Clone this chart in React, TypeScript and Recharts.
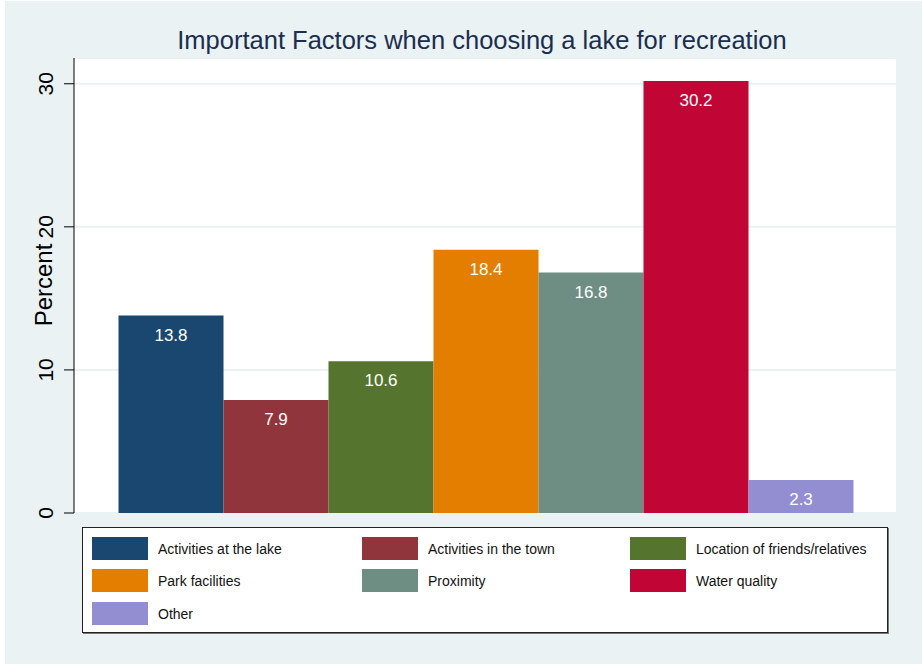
import React from 'react';
import { BarChart, Bar, XAxis, YAxis, CartesianGrid, LabelList, Label } from 'recharts';

// Shares of respondents by most important factor
const categories = [
  'Activities at the lake',
  'Activities in the town',
  'Location of friends/relatives',
  'Park facilities',
  'Proximity',
  'Water quality',
  'Other',
];
const percents = [13.8, 7.9, 10.6, 18.4, 16.8, 30.2, 2.3];
const colors = ['#1A476F', '#90353B', '#55752F', '#E37E00', '#6E8E84', '#C10534', '#938DD2'];
const yTicks = [0, 10, 20, 30];

const row: Record<string, number | string> = { name: 'all' };
categories.forEach((c, i) => {
  row['s' + i] = percents[i];
});
const data = [row];

const YTick = (props: any) => {
  const { y, payload } = props;
  const cx = 45.5;
  return (
    <text
      x={cx}
      y={y}
      dy="0.36em"
      textAnchor="middle"
      fontSize={21}
      fill="#000"
      fontFamily="Liberation Sans, Arial, sans-serif"
      transform={`rotate(-90, ${cx}, ${y})`}
    >
      {payload.value}
    </text>
  );
};

const AxisTitle = (props: any) => {
  const { viewBox } = props;
  const cx = 43.5;
  const cy = viewBox.y + viewBox.height / 2 - 0.5;
  return (
    <text
      x={cx}
      y={cy}
      dy="0.36em"
      textAnchor="middle"
      fontSize={24}
      fill="#000"
      fontFamily="Liberation Sans, Arial, sans-serif"
      transform={`rotate(-90, ${cx}, ${cy})`}
    >
      Percent
    </text>
  );
};

const App: React.FC = () => {
  return (
    <div
      style={{
        position: 'absolute',
        left: 0,
        top: 0,
        width: 922,
        height: 664,
        background: '#fff',
        fontFamily: 'Liberation Sans, Arial, sans-serif',
      }}
    >
      <div style={{ position: 'absolute', left: 5, top: 1, width: 917, height: 663, background: '#EAF2F3' }} />

      <div
        style={{
          position: 'absolute',
          left: 0,
          width: 964,
          top: 24,
          textAlign: 'center',
          fontSize: 25.5,
          lineHeight: '32px',
          color: '#1A2E50',
        }}
      >
        Important Factors when choosing a lake for recreation
      </div>

      <BarChart
        width={922}
        height={530}
        data={data}
        margin={{ top: 58, right: 26, bottom: 17, left: 0 }}
        barCategoryGap={44.5}
        barGap={0}
        style={{ position: 'absolute', left: 0, top: 0 }}
      >
        <CartesianGrid vertical={false} stroke="#EAF2F3" strokeWidth={2} fill="#ffffff" fillOpacity={1} />
        <XAxis dataKey="name" height={0} tick={false} tickLine={false} axisLine={{ stroke: '#000' }} />
        <YAxis
          width={74}
          domain={[0, 31.8]}
          ticks={yTicks}
          tickSize={10}
          axisLine={{ stroke: '#000' }}
          tickLine={{ stroke: '#000' }}
          tick={<YTick />}
        >
          <Label content={<AxisTitle />} />
        </YAxis>
        {categories.map((c, i) => (
          <Bar key={c} dataKey={'s' + i} name={c} fill={colors[i]} isAnimationActive={false}>
            <LabelList
              dataKey={'s' + i}
              position="insideTop"
              offset={13}
              fill="#fff"
              fontSize={17}
              formatter={(v: any) => Number(v).toFixed(1)}
            />
          </Bar>
        ))}
      </BarChart>

      <div
        style={{
          position: 'absolute',
          left: 82,
          top: 527,
          width: 804,
          height: 104,
          background: '#fff',
          border: '1px solid #222',
          boxShadow: '1px 1px 0 #777',
        }}
      >
        {categories.map((c, i) => {
          const col = i % 3;
          const r = Math.floor(i / 3);
          const left = [9, 279, 547][col];
          const top = [9, 41, 74][r];
          return (
            <div key={c} style={{ position: 'absolute', left, top, height: 23, display: 'flex', alignItems: 'center' }}>
              <div style={{ width: 56, height: 23, background: colors[i] }} />
              <span style={{ marginLeft: 10, fontSize: 14, color: '#111', whiteSpace: 'nowrap' }}>{c}</span>
            </div>
          );
        })}
      </div>
    </div>
  );
};

export default App;
